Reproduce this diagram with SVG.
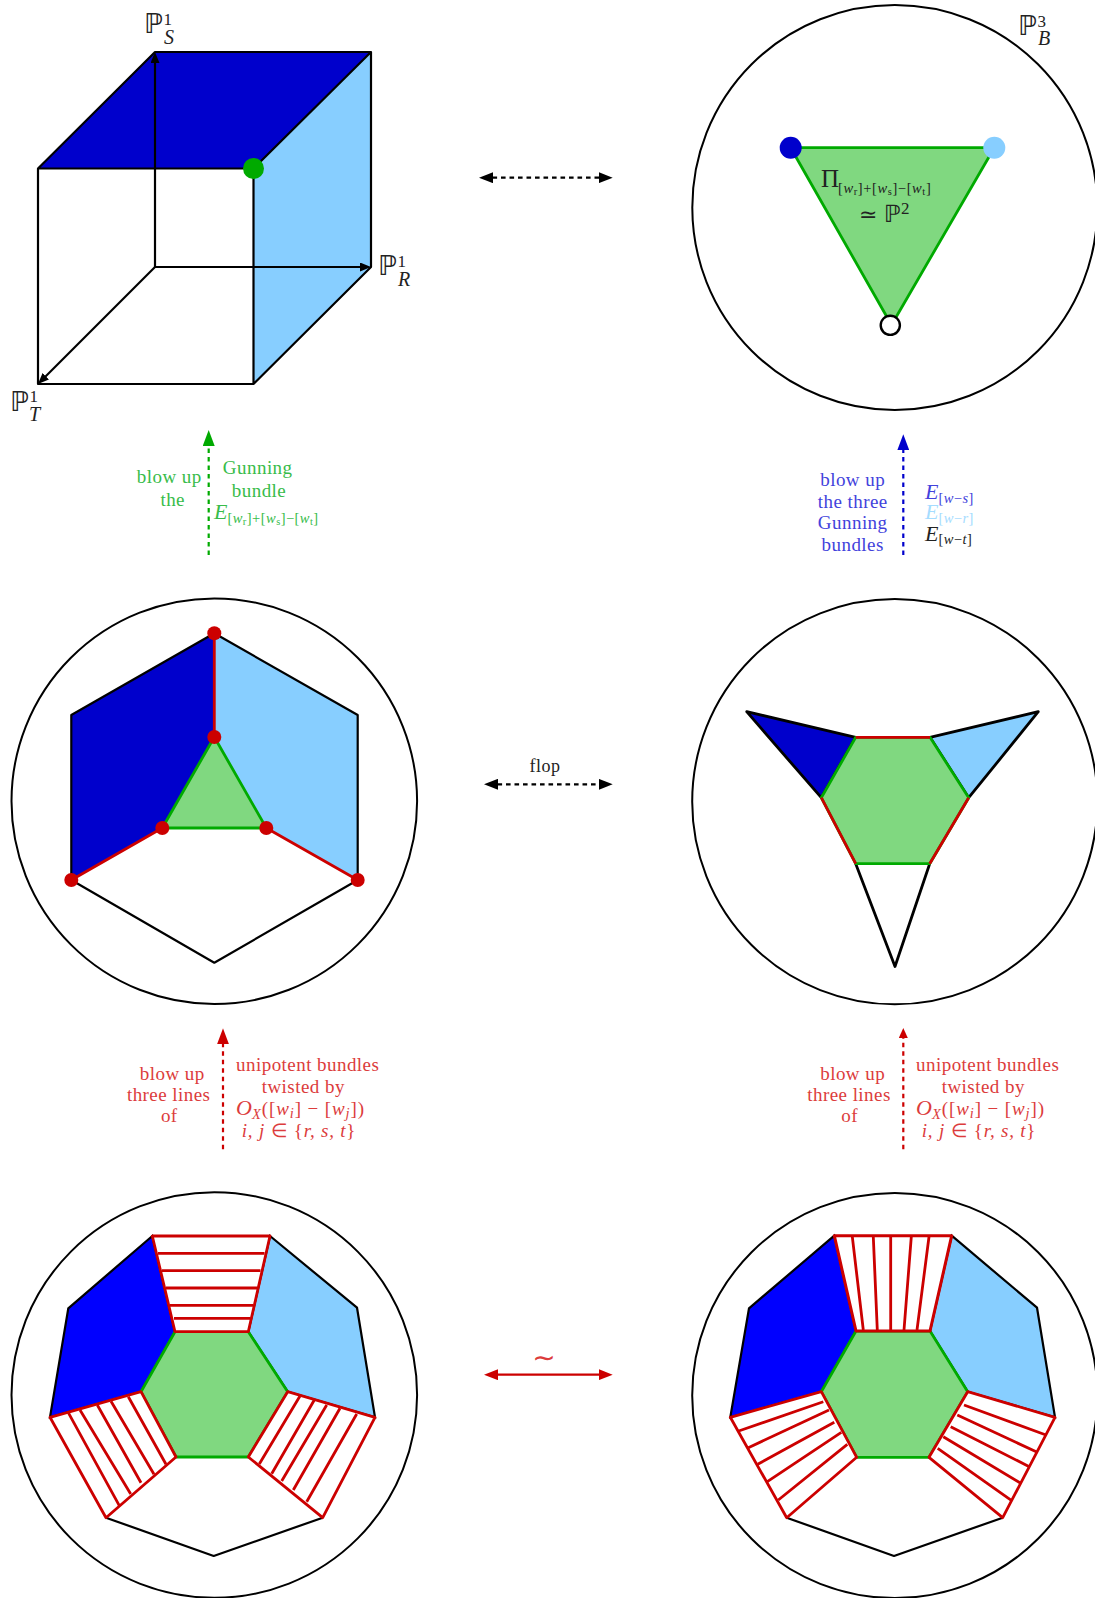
<svg xmlns="http://www.w3.org/2000/svg" width="1095" height="1598" viewBox="0 0 1095 1598">
<style>
text{font-family:"Liberation Serif","Times New Roman",serif;font-size:19px;letter-spacing:.45px}
.i{font-style:italic}
.e{font-size:22px;letter-spacing:0}
.s{font-size:14.5px}
.ss{font-size:10.5px}
.bb{font-family:"DejaVu Sans",sans-serif;font-size:27px;letter-spacing:0}
.sup{font-size:17px}
.sub{font-size:20px;font-style:italic}
.m{text-anchor:middle}
.k{fill:#222}.r{fill:#dc3c3c}.g{fill:#38bc4a}.b{fill:#4242dc}.l{fill:#a5dcff}
.ring{fill:none;stroke:#000;stroke-width:2}
.edge{fill:none;stroke:#000;stroke-width:2.2;stroke-linejoin:round}
.rl{fill:none;stroke:#c00;stroke-width:2.8;stroke-linejoin:round}
.gl{fill:#80d880;stroke:#0a0;stroke-width:2.8;stroke-linejoin:round}
.h{fill:#fff;stroke:#c00;stroke-width:2.8;stroke-linejoin:round}
.ink{stroke:#000;stroke-width:2.2;fill:none}
.dash{stroke-dasharray:4.6 3.9;stroke-width:2.2;fill:none}
</style>
<defs>
<marker id="hk" markerUnits="userSpaceOnUse" viewBox="0 0 14 11" markerWidth="14" markerHeight="11" refX="9" refY="5.5" orient="auto-start-reverse"><path d="M0 0L14 5.5L0 11Z" fill="#000"/></marker>
<marker id="hs" markerUnits="userSpaceOnUse" viewBox="0 0 11 9" markerWidth="11" markerHeight="9" refX="6" refY="4.5" orient="auto-start-reverse"><path d="M0 0L11 4.5L0 9Z" fill="#000"/></marker>
<marker id="hr" markerUnits="userSpaceOnUse" viewBox="0 0 14 11" markerWidth="14" markerHeight="11" refX="9" refY="5.5" orient="auto-start-reverse"><path d="M0 0L14 5.5L0 11Z" fill="#c00"/></marker>
<marker id="hrv" markerUnits="userSpaceOnUse" viewBox="0 0 16 12" markerWidth="16" markerHeight="12" refX="11" refY="6" orient="auto"><path d="M0 0L16 6L0 12Z" fill="#c00"/></marker>
<marker id="hrs" markerUnits="userSpaceOnUse" viewBox="0 0 10 9" markerWidth="10" markerHeight="9" refX="5" refY="4.5" orient="auto"><path d="M0 0L10 4.5L0 9Z" fill="#c00"/></marker>
<marker id="hg" markerUnits="userSpaceOnUse" viewBox="0 0 16 12" markerWidth="16" markerHeight="12" refX="11" refY="6" orient="auto"><path d="M0 0L16 6L0 12Z" fill="#0a0"/></marker>
<marker id="hb" markerUnits="userSpaceOnUse" viewBox="0 0 16 12" markerWidth="16" markerHeight="12" refX="11" refY="6" orient="auto"><path d="M0 0L16 6L0 12Z" fill="#00c"/></marker>
</defs>
<rect width="1095" height="1598" fill="#fff"/>

<g id="cube">
<polygon points="155,52 371,52 253.5,168.5 38,168.5" fill="#00c"/>
<polygon points="371,52 371,267 253.5,384 253.5,168.5" fill="#87ceff"/>
<path class="edge" d="M38,168.5L155,52H371V267L253.5,384H38V168.5H253.5V384M371,52L253.5,168.5"/>
<line class="ink" x1="155" y1="267" x2="155" y2="57" marker-end="url(#hs)"/>
<line class="ink" x1="155" y1="267" x2="366" y2="267" marker-end="url(#hs)"/>
<line class="ink" x1="155" y1="267" x2="41.5" y2="380.5" marker-end="url(#hs)"/>
<circle cx="253.5" cy="168.5" r="10.5" fill="#0a0"/>
<text class="k bb" x="144" y="33">ℙ</text><text class="k sup" x="163.5" y="25">1</text><text class="k sub" x="164" y="43.5">S</text>
<text class="k bb" x="378" y="275">ℙ</text><text class="k sup" x="397.5" y="267">1</text><text class="k sub" x="398" y="286">R</text>
<text class="k bb" x="10" y="410.5">ℙ</text><text class="k sup" x="29.5" y="402">1</text><text class="k sub" x="29" y="420.5">T</text>
</g>

<g id="p3">
<circle class="ring" cx="894.8" cy="207.5" r="202.5"/>
<polygon class="gl" points="790.7,147.7 994.3,147.7 891.5,325"/>
<circle cx="790.7" cy="147.7" r="11" fill="#00c"/>
<circle cx="994.3" cy="147.7" r="11" fill="#87ceff"/>
<circle cx="890.3" cy="325.3" r="9.6" fill="#fff" stroke="#000" stroke-width="2.4"/>
<text class="k bb" x="1018" y="35">ℙ</text><text class="k sup" x="1037.5" y="26.5">3</text><text class="k sub" x="1038" y="45">B</text>
<text class="k" x="821" y="186.5" style="font-size:25px">Π</text>
<text class="k s" x="838" y="192.5" style="letter-spacing:.6px">[<tspan class="i">w</tspan><tspan class="ss" dy="2.5">r</tspan><tspan dy="-2.5">]+[</tspan><tspan class="i">w</tspan><tspan class="ss" dy="2.5">s</tspan><tspan dy="-2.5">]−[</tspan><tspan class="i">w</tspan><tspan class="ss" dy="2.5">t</tspan><tspan dy="-2.5">]</tspan></text>
<text class="k" x="859" y="221.5" style="font-size:22px;font-family:'DejaVu Sans',sans-serif;letter-spacing:0">≃</text><text class="k bb" x="884" y="221.5" style="font-size:24px">ℙ</text><text class="k sup" x="901" y="214">2</text>
</g>

<g id="cuboid-blowup">
<circle class="ring" cx="214.3" cy="801.2" r="202.8"/>
<polygon points="214.3,633.3 214.3,737 162.3,828 71.3,880 71.3,715" fill="#00c"/>
<polygon points="214.3,633.3 214.3,737 266.3,828 357.7,880 357.7,715" fill="#87ceff"/>
<polygon class="edge" points="214.3,633.3 357.7,715 357.7,880 214.3,962.7 71.3,880 71.3,715"/>
<polygon class="gl" points="214.3,737 266.3,828 162.3,828"/>
<path class="rl" d="M214.3,633.3V737M71.3,880L162.3,828M357.7,880L266.3,828"/>
<g fill="#c00"><circle cx="214.3" cy="633.3" r="7"/><circle cx="214.3" cy="737" r="7"/><circle cx="162.3" cy="828" r="7"/><circle cx="266.3" cy="828" r="7"/><circle cx="71.3" cy="880" r="7"/><circle cx="357.7" cy="880" r="7"/></g>
</g>

<g id="flop">
<circle class="ring" cx="894.8" cy="801.7" r="202.6"/>
<polygon class="edge" points="855.7,737.3 746.7,711.7 821.3,797.7" style="fill:#00c;stroke-width:2.8"/>
<polygon class="edge" points="930,737.3 1038.3,711.7 968.7,797.7" style="fill:#87ceff;stroke-width:2.8"/>
<polygon class="edge" points="855.7,863.7 895,966.5 929.7,863.7" style="fill:#fff;stroke-width:2.8"/>
<polygon class="gl" points="855.7,737.3 930,737.3 968.7,797.7 929.7,863.7 855.7,863.7 821.3,797.7"/>
<path class="rl" d="M855.7,737.3H930M821.3,797.7L855.7,863.7M968.7,797.7L929.7,863.7"/>
</g>

<g id="bottom-left">
<circle class="ring" cx="214.3" cy="1395" r="202.8"/>
<polygon points="152.3,1236 68.3,1308.3 50,1417.3 141,1391.7 175,1331.7" fill="#00f" stroke="#000" stroke-width="2.2"/>
<polygon points="270,1236 357,1307.7 375,1417.3 287.7,1391.7 248.3,1331.7" fill="#87ceff" stroke="#000" stroke-width="2.2"/>
<path class="edge" d="M106,1517.7L213.7,1556L322.7,1517.7"/>
<polygon class="gl" points="175,1331.7 248.3,1331.7 287.7,1391.7 248.3,1457 176,1457 141,1391.7"/>
<polygon class="h" points="152.3,1236 270,1236 248.3,1331.7 175,1331.7"/>
<polygon class="h" points="50,1417.3 141,1391.7 176,1457 106,1517.7"/>
<polygon class="h" points="287.7,1391.7 375,1417.3 322.7,1517.7 248.3,1457"/>
<path class="rl" d="M158,1253.3H264.5M162,1270.7H260.5M166,1288H257M170,1305.3H253M174,1318.3H250.5M68.3,1412.7L119.3,1505.7M80,1410L130.7,1494M97.3,1405L141,1482.7M111,1401.3L154,1474.3M128.3,1396.7L166,1464.3M300,1396L259.3,1464M314.3,1400L271.7,1473.7M326.7,1405L281.7,1481M340,1408.3L293.3,1490M356.7,1414L306.7,1501.7"/>
</g>

<g id="bottom-right">
<circle class="ring" cx="894.8" cy="1395.5" r="202.6"/>
<polygon points="834.3,1235.7 749,1308.3 730.3,1417.3 821.3,1391.7 856,1331" fill="#00f" stroke="#000" stroke-width="2.2"/>
<polygon points="951.7,1235.7 1037,1307.7 1055,1417.3 967.7,1391.7 930,1331" fill="#87ceff" stroke="#000" stroke-width="2.2"/>
<path class="edge" d="M786.7,1517.7L894,1556L1002.7,1517.7"/>
<polygon class="gl" points="856,1331 930,1331 967.7,1391.7 929,1457.3 856.7,1457.3 821.3,1391.7"/>
<polygon class="h" points="834.3,1235.7 951.7,1235.7 930,1331 856,1331" style="stroke-width:3"/>
<polygon class="h" points="730.3,1417.3 821.3,1391.7 856.7,1457.3 786.7,1517.7"/>
<polygon class="h" points="967.7,1391.7 1055,1417.3 1002.7,1517.7 929,1457.3"/>
<path class="rl" d="M852.3,1236.7L863.3,1330M873.3,1236.7L877.3,1330M890.7,1236.7V1330M911.3,1236.7L904,1330M929,1236.7L917,1330M738.7,1431L823.3,1401.7M748.3,1447.7L829,1410M757.7,1464.3L834.3,1422.3M767.3,1481.7L841.3,1432.3M778.3,1500L847.3,1444.3M1046,1435L964,1405M1037.3,1452.3L957.3,1415M1029.3,1466.7L950.7,1426.7M1020.7,1483.3L943.3,1436.7M1011.7,1500.7L937.7,1448.3"/>
</g>

<g id="connectors">
<line class="dash" stroke="#000" x1="484" y1="177.7" x2="607.7" y2="177.7" marker-start="url(#hk)" marker-end="url(#hk)"/>
<line class="dash" stroke="#000" x1="489" y1="784.3" x2="607.7" y2="784.3" marker-start="url(#hk)" marker-end="url(#hk)"/>
<line stroke="#c00" stroke-width="2.2" x1="489" y1="1374.7" x2="607.7" y2="1374.7" marker-start="url(#hr)" marker-end="url(#hr)"/>
<line class="dash" stroke="#0a0" x1="208.7" y1="555" x2="208.7" y2="435" marker-end="url(#hg)"/>
<line class="dash" stroke="#00c" x1="903.3" y1="555" x2="903.3" y2="439.3" marker-end="url(#hb)"/>
<line class="dash" stroke="#c00" x1="223" y1="1149.3" x2="223" y2="1033.3" marker-end="url(#hrv)"/>
<line class="dash" stroke="#c00" x1="903.3" y1="1149.3" x2="903.3" y2="1033" marker-end="url(#hrs)"/>
</g>

<g id="labels">
<text class="k m" x="545" y="771.5" style="font-size:18px">flop</text>
<text class="r m" x="544" y="1367" style="font-size:28px;font-family:'DejaVu Sans',sans-serif;letter-spacing:0">∼</text>

<text class="g m" x="169.3" y="483">blow up</text><text class="g m" x="172.7" y="506">the</text>
<text class="g m" x="257.7" y="474.3">Gunning</text><text class="g m" x="259" y="496.7">bundle</text>
<text class="g" x="214" y="519"><tspan class="i e">E</tspan><tspan class="s" dy="3.5">[<tspan class="i">w</tspan><tspan class="ss" dy="2.5">r</tspan><tspan dy="-2.5">]+[</tspan><tspan class="i">w</tspan><tspan class="ss" dy="2.5">s</tspan><tspan dy="-2.5">]−[</tspan><tspan class="i">w</tspan><tspan class="ss" dy="2.5">t</tspan><tspan dy="-2.5">]</tspan></tspan></text>

<text class="b m" x="852.7" y="486">blow up</text><text class="b m" x="852.7" y="507.5">the three</text><text class="b m" x="852.7" y="528.5">Gunning</text><text class="b m" x="852.7" y="550.7">bundles</text>
<text class="b" x="925" y="499"><tspan class="i e">E</tspan><tspan class="s" dy="3.5">[<tspan class="i">w</tspan>−<tspan class="i">s</tspan>]</tspan></text>
<text class="l" x="925" y="519.3"><tspan class="i e">E</tspan><tspan class="s" dy="3.5">[<tspan class="i">w</tspan>−<tspan class="i">r</tspan>]</tspan></text>
<text class="k" x="925" y="540.7"><tspan class="i e">E</tspan><tspan class="s" dy="3.5">[<tspan class="i">w</tspan>−<tspan class="i">t</tspan>]</tspan></text>

<text class="r m" x="172.3" y="1080">blow up</text><text class="r m" x="168.7" y="1101">three lines</text><text class="r m" x="169.3" y="1121.7">of</text>
<text class="r m" x="307.7" y="1071">unipotent bundles</text><text class="r m" x="303.3" y="1092.7">twisted by</text>
<text class="r" x="236" y="1115" style="letter-spacing:.9px"><tspan class="i e">O</tspan><tspan class="i s" dy="3.5">X</tspan><tspan dy="-3.5">([</tspan><tspan class="i">w</tspan><tspan class="i s" dy="3">i</tspan><tspan dy="-3">] − [</tspan><tspan class="i">w</tspan><tspan class="i s" dy="3">j</tspan><tspan dy="-3">])</tspan></text>
<text class="r m" x="299" y="1136.7" style="letter-spacing:.8px"><tspan class="i">i, j</tspan> ∈ {<tspan class="i">r, s, t</tspan>}</text>

<text class="r m" x="852.7" y="1080">blow up</text><text class="r m" x="849" y="1101">three lines</text><text class="r m" x="849.7" y="1121.7">of</text>
<text class="r m" x="987.7" y="1071">unipotent bundles</text><text class="r m" x="983.3" y="1092.7">twisted by</text>
<text class="r" x="916" y="1115" style="letter-spacing:.9px"><tspan class="i e">O</tspan><tspan class="i s" dy="3.5">X</tspan><tspan dy="-3.5">([</tspan><tspan class="i">w</tspan><tspan class="i s" dy="3">i</tspan><tspan dy="-3">] − [</tspan><tspan class="i">w</tspan><tspan class="i s" dy="3">j</tspan><tspan dy="-3">])</tspan></text>
<text class="r m" x="979" y="1136.7" style="letter-spacing:.8px"><tspan class="i">i, j</tspan> ∈ {<tspan class="i">r, s, t</tspan>}</text>
</g>
</svg>
